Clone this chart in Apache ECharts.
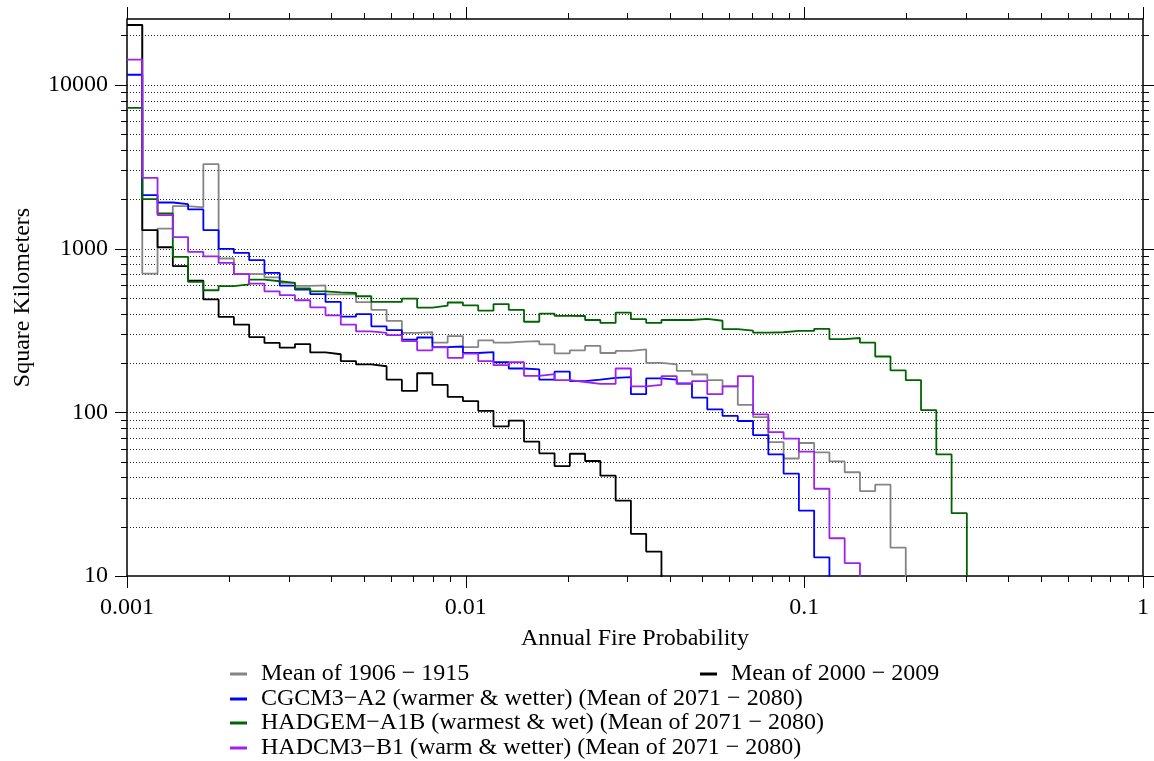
<!DOCTYPE html>
<html>
<head>
<meta charset="utf-8">
<script src="https://cdn.jsdelivr.net/npm/echarts@6/dist/echarts.min.js"></script>
<style>
html,body{margin:0;padding:0;background:#fff;}
#chart{width:1154px;height:761px;}
</style>
</head>
<body>
<div id="chart"></div>
<script>
// Bin edges (annual fire probability)
const edges = [0.0010000,0.0011094,0.0012308,0.0013654,0.0015148,0.0016805,0.0018644,0.0020684,0.0022947,0.0025457,
  0.0028242,0.0031332,0.0034760,0.0038563,0.0042782,0.0047462,0.0052654,0.0058414,0.0064805,0.0071895,
  0.0079760,0.0088486,0.0098166,0.010891,0.012082,0.013404,0.014870,0.016497,0.018302,0.020304,
  0.022525,0.024989,0.027723,0.030756,0.034121,0.037854,0.041995,0.046589,0.051686,0.057341,
  0.063614,0.070573,0.078294,0.086860,0.096362,0.10690,0.11860,0.13157,0.14597,0.16194,
  0.17965,0.19931,0.22111,0.24530,0.27214,0.30191];

// Square kilometers per bin
const gray = [23200,703,1324,1815,1784,3273,869,700,697,666,
  617,592,595,525,526,470,422,361,305,308,
  266,292,250,275,266,270,272,260,229,239,
  254,230,237,242,200,196,179,170,157,144,
  111,93.5,65.7,52.2,64.9,56.9,50.1,43,33,36.1,14.9];
const black = [23170,1294,1018,780,637,489,382,343,288,265,
  248,261,232,226,205,196,191,158,135,173,
  147,124,117,102,82,89,66.2,56.1,46.9,55.8,
  50.4,41,28.9,18.1,14.1];
const blue = [11510,2118,1910,1867,1733,1294,995,940,849,710,
  594,562,526,472,384,397,335,317,278,286,
  250,252,230,233,202,185,183,158,177,155,
  158,162,164,129,161,158,150,123,104,95,
  88.4,72.5,55.3,42.2,25.1,13.0];
const green = [7230,2000,1636,889,625,556,590,603,645,631,
  617,570,548,540,535,511,472,472,494,436,
  448,468,449,417,458,422,357,400,388,387,
  366,351,406,370,351,366,366,372,362,322,
  315,306,308,314,314,323,280,284,266,219,
  180,157,103,55.3,24.2];
const purple = [14220,2703,1600,1175,955,896,817,697,611,548,
  519,483,437,391,343,312,305,296,272,239,
  249,215,228,205,194,202,167,171,157,153,
  149,149,185,144,147,166,149,155,129,144,
  166,97,75.6,69,57.5,34.1,17.0,12.0];

const seriesNames = ['Mean of 1906 \u2212 1915','Mean of 2000 \u2212 2009',
  'CGCM3\u2212A2 (warmer & wetter) (Mean of 2071 \u2212 2080)',
  'HADGEM\u2212A1B (warmest & wet) (Mean of 2071 \u2212 2080)',
  'HADCM3\u2212B1 (warm & wetter) (Mean of 2071 \u2212 2080)'];
const seriesColors = ['#858585','#000000','#0000ff','#006400','#a020f0'];

// Axis ticks
const xRange = [0.001, 1];
const yRange = [10, 25210];
const xMajor = [0.001,0.01,0.1,1];
const xMajorLabels = ['0.001','0.01','0.1','1'];
const xMinor = [0.002,0.003,0.004,0.005,0.006,0.007,0.008,0.009,
  0.02,0.03,0.04,0.05,0.06,0.07,0.08,0.09,
  0.2,0.3,0.4,0.5,0.6,0.7,0.8,0.9];
const yMajor = [10,100,1000,10000];
const yMajorLabels = ['10','100','1000','10000'];
const yMinor = [20,30,40,50,60,70,80,90,200,300,400,500,600,700,800,900,
  2000,3000,4000,5000,6000,7000,8000,9000,20000];

const FONT = 'Liberation Serif';
const FS = 24;

function stepData(vals){
  const d = vals.map((v,i)=>[edges[i], v]);
  d.push([edges[vals.length], vals[vals.length-1]]);
  d.push([edges[vals.length], 1]);
  return d;
}

const chart = echarts.init(document.getElementById('chart'), null, {renderer:'canvas'});

function labelFmt(vals, labels){
  return function(v){
    for (let i=0;i<vals.length;i++){ if (Math.abs(Math.log10(v)-Math.log10(vals[i]))<1e-6) return labels[i]; }
    return '';
  };
}

function px(x){ return Math.round(x)+0.5; }

const gridSeries = {
  type:'custom', name:'_grid', silent:true, z:1, clip:false,
  data: yMajor.slice(1).concat(yMinor).map(v=>[xRange[0], v]),
  renderItem: function(params, api){
    const v = api.value(1);
    const a = api.coord([xRange[0], v]);
    const b = api.coord([xRange[1], v]);
    const y = px(a[1]);
    return {type:'line', shape:{x1:a[0], y1:y, x2:b[0], y2:y},
      style:{stroke:'#222', lineWidth:1, lineDash:[1,2]}};
  }
};

function tickSeries(isX){
  const items = [];
  (isX? xMajor : yMajor).forEach(v=>items.push([isX? v: xRange[0], isX? yRange[0]: v, 1]));
  (isX? xMinor : yMinor).forEach(v=>items.push([isX? v: xRange[0], isX? yRange[0]: v, 0]));
  return {
    type:'custom', silent:true, z:5, clip:false,
    data: items,
    renderItem: function(params, api){
      const major = api.value(2) === 1;
      const L = major ? 12 : 6;
      if (isX){
        const v = api.value(0);
        const a = api.coord([v, yRange[0]]);
        const b = api.coord([v, yRange[1]]);
        const x = px(a[0]);
        return {type:'group', children:[
          {type:'line', shape:{x1:x, y1:a[1], x2:x, y2:a[1]+L}, style:{stroke:'#000', lineWidth:1}},
          {type:'line', shape:{x1:x, y1:b[1], x2:x, y2:b[1]-L}, style:{stroke:'#000', lineWidth:1}}
        ]};
      } else {
        const v = api.value(1);
        const a = api.coord([xRange[0], v]);
        const b = api.coord([xRange[1], v]);
        const y = px(a[1]);
        return {type:'group', children:[
          {type:'line', shape:{x1:a[0], y1:y, x2:a[0]-L, y2:y}, style:{stroke:'#000', lineWidth:1}},
          {type:'line', shape:{x1:b[0], y1:y, x2:b[0]+L, y2:y}, style:{stroke:'#000', lineWidth:1}}
        ]};
      }
    }
  };
}

const allVals = [gray, black, blue, green, purple];
const lineSeries = allVals.map((vals, i)=>({
  type:'line', name: seriesNames[i], step:'end', showSymbol:false, symbol:'none',
  clip:true, z:3, animation:false,
  lineStyle:{color: seriesColors[i], width:1.8},
  itemStyle:{color: seriesColors[i]},
  data: stepData(vals)
}));

const legendRows = [
  {name: seriesNames[0], left: 230, top: 662},
  {name: seriesNames[1], left: 700, top: 662},
  {name: seriesNames[2], left: 230, top: 687},
  {name: seriesNames[3], left: 230, top: 711},
  {name: seriesNames[4], left: 230, top: 736}
];

const option = {
  animation:false,
  backgroundColor:'#ffffff',
  grid:{left:127, top:19, width:1016, height:557, show:true, borderColor:'#000', borderWidth:1.5, backgroundColor:'transparent'},
  xAxis:{
    type:'log', logBase:10, min:xRange[0], max:xRange[1], interval:1,
    name:'Annual Fire Probability', nameLocation:'middle', nameGap:51,
    nameTextStyle:{fontFamily:FONT, fontSize:FS, color:'#000'},
    axisLine:{show:false}, axisTick:{show:false}, splitLine:{show:false}, minorTick:{show:false},
    axisLabel:{fontFamily:FONT, fontSize:FS, color:'#000', margin:20, formatter: labelFmt(xMajor, xMajorLabels), showMinLabel:true, showMaxLabel:true}
  },
  yAxis:{
    type:'log', logBase:10, min:yRange[0], max:yRange[1], interval:1,
    name:'Square Kilometers', nameLocation:'middle', nameGap:92, nameRotate:90,
    nameTextStyle:{fontFamily:FONT, fontSize:FS, color:'#000'},
    axisLine:{show:false}, axisTick:{show:false}, splitLine:{show:false}, minorTick:{show:false},
    axisLabel:{fontFamily:FONT, fontSize:FS, color:'#000', margin:19, formatter: labelFmt(yMajor, yMajorLabels)}
  },
  legend: legendRows.map(r=>({
    data:[{name:r.name, icon:'rect'}], left:r.left, top:r.top, orient:'horizontal',
    itemWidth:17, itemHeight:3, selectedMode:false, padding:0,
    textStyle:{fontFamily:FONT, fontSize:FS, color:'#000', padding:[0,0,0,9]}
  })),
  series: [gridSeries, tickSeries(true), tickSeries(false)].concat(lineSeries)
};
chart.setOption(option);
</script>
</body>
</html>
